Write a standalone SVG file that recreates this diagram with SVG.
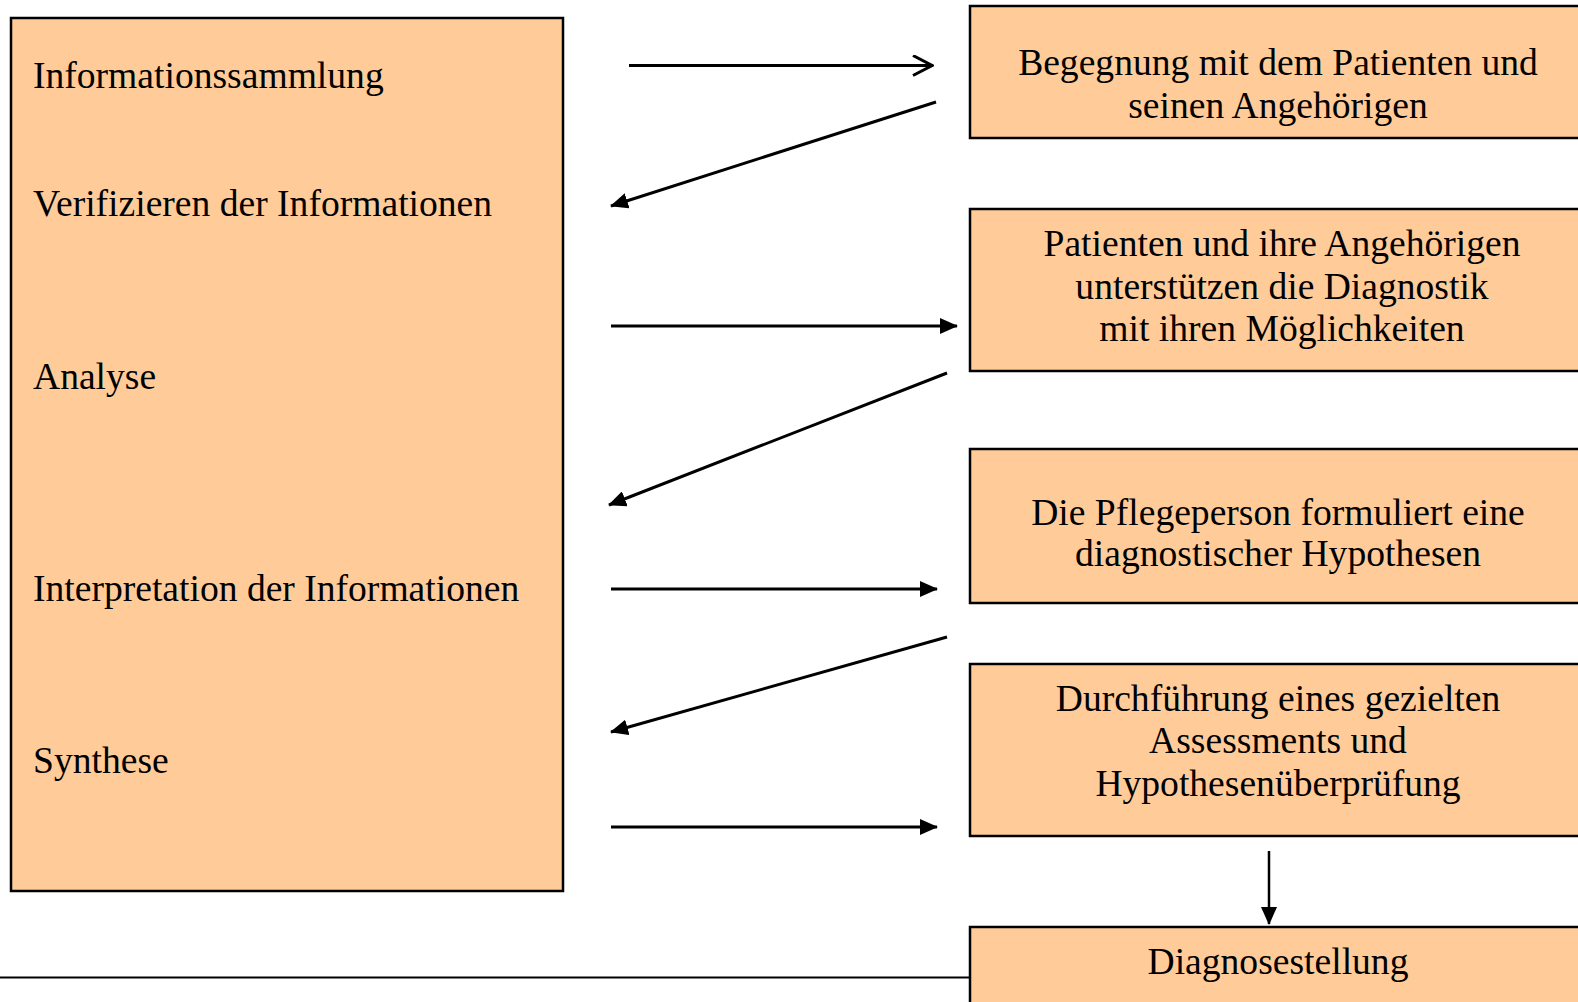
<svg xmlns="http://www.w3.org/2000/svg" width="1578" height="1002" viewBox="0 0 1578 1002">
<defs>
<style>
.box{fill:#FFCC99;stroke:#000;stroke-width:2.5}
.t{font-family:"Liberation Serif","Times New Roman",serif;font-size:37.6px;fill:#000}
.c{text-anchor:middle}
.ln{stroke:#000;stroke-width:3;fill:none}
</style>
<marker id="ah" markerWidth="18" markerHeight="16" refX="17" refY="8" orient="auto" markerUnits="userSpaceOnUse">
<path d="M0,0 L18,8 L0,16 Z" fill="#000"/>
</marker>
<marker id="oh" markerWidth="22" markerHeight="22" refX="20" refY="11" orient="auto" markerUnits="userSpaceOnUse">
<path d="M1,1 L20,11 L1,21" fill="none" stroke="#000" stroke-width="3"/>
</marker>
</defs>
<rect width="1578" height="1002" fill="#fff"/>
<g id="left-box">
<rect class="box" x="11" y="18" width="552" height="873"/>
<text class="t" x="33" y="88">Informationssammlung</text>
<text class="t" x="33" y="216">Verifizieren der Informationen</text>
<text class="t" x="33" y="389">Analyse</text>
<text class="t" x="33" y="601">Interpretation der Informationen</text>
<text class="t" x="33" y="773">Synthese</text>
</g>
<g id="node-begegnung">
<rect class="box" x="970" y="6" width="620" height="132"/>
<text class="t c" x="1278" y="75">Begegnung mit dem Patienten und</text>
<text class="t c" x="1278" y="118">seinen Angehörigen</text>
</g>
<g id="node-patienten">
<rect class="box" x="970" y="209" width="620" height="162"/>
<text class="t c" x="1282" y="256">Patienten und ihre Angehörigen</text>
<text class="t c" x="1282" y="299">unterstützen die Diagnostik</text>
<text class="t c" x="1282" y="341">mit ihren Möglichkeiten</text>
</g>
<g id="node-hypothese">
<rect class="box" x="970" y="449" width="620" height="154"/>
<text class="t c" x="1278" y="525">Die Pflegeperson formuliert eine</text>
<text class="t c" x="1278" y="566">diagnostischer Hypothesen</text>
</g>
<g id="node-assessment">
<rect class="box" x="970" y="664" width="620" height="172"/>
<text class="t c" x="1278" y="711">Durchführung eines gezielten</text>
<text class="t c" x="1278" y="753">Assessments und</text>
<text class="t c" x="1278" y="796">Hypothesenüberprüfung</text>
</g>
<g id="node-diagnose">
<rect class="box" x="970" y="927" width="620" height="90"/>
<text class="t c" x="1278" y="974">Diagnosestellung</text>
</g>
<g id="connectors">
<line class="ln" x1="629" y1="65.5" x2="932" y2="65.5" marker-end="url(#oh)"/>
<line class="ln" x1="936" y1="102" x2="611" y2="206" marker-end="url(#ah)"/>
<line class="ln" x1="611" y1="326" x2="957" y2="326" marker-end="url(#ah)"/>
<line class="ln" x1="947" y1="373" x2="609" y2="505" marker-end="url(#ah)"/>
<line class="ln" x1="611" y1="589" x2="937" y2="589" marker-end="url(#ah)"/>
<line class="ln" x1="947" y1="637" x2="611" y2="732" marker-end="url(#ah)"/>
<line class="ln" x1="611" y1="827" x2="937" y2="827" marker-end="url(#ah)"/>
<line class="ln" x1="1269" y1="851" x2="1269" y2="924" marker-end="url(#ah)" style="stroke-width:2.5"/>
<line class="ln" x1="0" y1="977.5" x2="970" y2="977.5" style="stroke-width:2"/>
</g>
</svg>
